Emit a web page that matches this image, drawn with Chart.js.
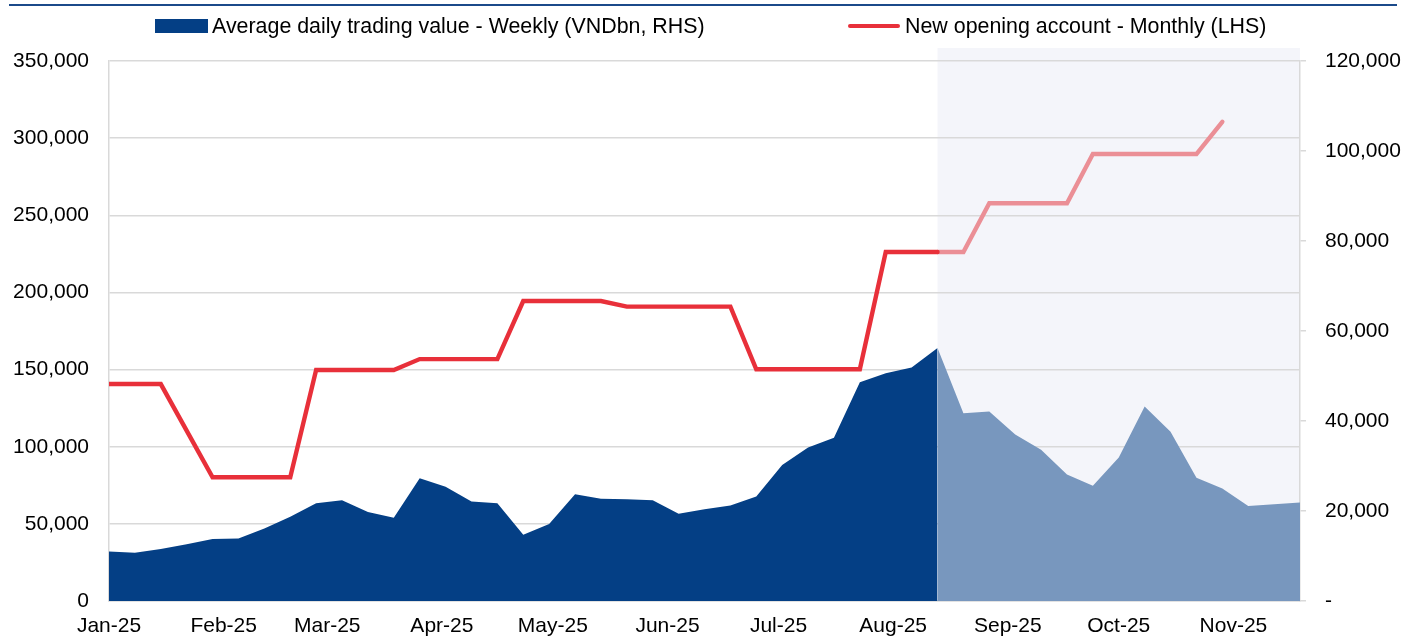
<!DOCTYPE html>
<html><head><meta charset="utf-8">
<script src="https://cdn.jsdelivr.net/npm/chart.js@4"></script>
<style>
html,body{margin:0;padding:0;background:#fff;}
#wrap{position:relative;width:1405px;height:637px;overflow:hidden;font-family:"Liberation Sans",Arial,sans-serif;}
#topline{position:absolute;left:9px;top:4px;width:1388px;height:2px;background:#1B4A8A;}
.lgt{position:absolute;top:15px;font-size:21.4px;line-height:22px;color:#000;white-space:nowrap;}
.lgm{position:absolute;}
canvas{position:absolute;left:0;top:0;}
</style></head>
<body><div id="wrap"><canvas id="c" width="1405" height="637"></canvas><div id="topline"></div><div id="legend"></div></div>
<script>
// ---- data ----
const weeks = ['2025-01-01','2025-01-08','2025-01-15','2025-01-22','2025-01-29',
  '2025-02-05','2025-02-12','2025-02-19','2025-02-26',
  '2025-03-05','2025-03-12','2025-03-19','2025-03-26',
  '2025-04-02','2025-04-09','2025-04-16','2025-04-23','2025-04-30',
  '2025-05-07','2025-05-14','2025-05-21','2025-05-28',
  '2025-06-04','2025-06-11','2025-06-18','2025-06-25',
  '2025-07-02','2025-07-09','2025-07-16','2025-07-23','2025-07-30',
  '2025-08-06','2025-08-13','2025-08-20','2025-08-27',
  '2025-09-03','2025-09-10','2025-09-17','2025-09-24',
  '2025-10-01','2025-10-08','2025-10-15','2025-10-22','2025-10-29',
  '2025-11-05','2025-11-12','2025-11-19'];
// Average daily trading value - weekly (VNDbn, right axis)
const tradingValue = [11000,10700,11550,12600,13800,13900,16100,18700,21700,22400,19800,18500,
  27300,25400,22100,21700,14700,17100,23700,22700,22600,22400,19400,20400,21200,23200,
  30200,34100,36300,48600,50600,51900,56200,41700,42100,37000,33600,28100,25600,31900,
  43200,37600,27400,25000,21100,21500,21900];
// New opening accounts - monthly value shown at each week (left axis)
const newAccounts = [140600,140600,140600,null,80200,80200,80200,80200,
  149700,149700,149700,149700,156800,156800,156800,156800,
  194400,194400,194400,194400,190800,190800,190800,190800,190800,
  150200,150200,150200,150200,150200,226200,226200,226200,226200,
  257800,257800,257800,257800,289700,289700,289700,289700,289700,310600,null,null,null];
const seriesNames = ['Average daily trading value - Weekly (VNDbn, RHS)','New opening account - Monthly (LHS)'];
const shadeStart = '2025-08-13';
const monthTicks = ['2025-01-01','2025-02-01','2025-03-01','2025-04-01','2025-05-01','2025-06-01',
  '2025-07-01','2025-08-01','2025-09-01','2025-10-01','2025-11-01'];
const monthLabels = ['Jan-25','Feb-25','Mar-25','Apr-25','May-25','Jun-25','Jul-25','Aug-25','Sep-25','Oct-25','Nov-25'];
const leftTicks = [0,50000,100000,150000,200000,250000,300000,350000];
const rightTicks = [0,20000,40000,60000,80000,100000,120000];

// ---- styles ----
const NAVY = '#043F85', NAVY_L = '#7897BE', RED = '#E8303A', RED_L = '#EB8F96', SHADE = '#F4F5FA', GRID = '#D9D9D9';

const day = s => (Date.UTC(+s.slice(0,4), +s.slice(5,7)-1, +s.slice(8,10)) - Date.UTC(2025,0,1)) / 86400000;
const splitIdx = weeks.indexOf(shadeStart);
const pts = (arr, keep) => weeks.map((w,i) => ({x: day(w), y: keep(i) ? arr[i] : null}));
const fmt = v => v.toLocaleString('en-US');

// legend (HTML)
const lg = document.getElementById('legend');
lg.innerHTML =
  `<div class="lgm" style="left:155px;top:19px;width:53px;height:14px;background:${NAVY}"></div>
   <div class="lgt" style="left:212px">${seriesNames[0]}</div>
   <div class="lgm" style="left:848px;top:24px;width:52px;height:4px;border-radius:2px;background:${RED}"></div>
   <div class="lgt" style="left:905px">${seriesNames[1]}</div>`;

const shadePlugin = {
  id: 'shade',
  beforeDraw(chart) {
    const {ctx, chartArea, scales} = chart;
    const x0 = scales.x.getPixelForValue(day(shadeStart));
    ctx.save();
    ctx.fillStyle = SHADE;
    ctx.fillRect(x0, chartArea.top - 13, chartArea.right - x0, chartArea.bottom - chartArea.top + 13);
    ctx.restore();
  }
};

Chart.defaults.font.family = '"Liberation Sans", Arial, sans-serif';
Chart.defaults.font.size = 21;
Chart.defaults.color = '#000';

new Chart(document.getElementById('c'), {
  type: 'line',
  data: {
    datasets: [
      {label: seriesNames[1], data: pts(newAccounts, i => i <= splitIdx), yAxisID: 'y',
       borderColor: RED, borderWidth: 4.4, pointRadius: 0, tension: 0, spanGaps: true, fill: false,
       borderCapStyle: 'round', borderJoinStyle: 'miter'},
      {label: seriesNames[1] + ' (later)', data: pts(newAccounts, i => i >= splitIdx), yAxisID: 'y',
       borderColor: RED_L, borderWidth: 4.4, pointRadius: 0, tension: 0, spanGaps: true, fill: false,
       borderCapStyle: 'round', borderJoinStyle: 'miter'},
      {label: seriesNames[0], data: pts(tradingValue, i => i <= splitIdx), yAxisID: 'y1',
       borderWidth: 0, borderColor: NAVY, backgroundColor: NAVY, pointRadius: 0, tension: 0, fill: 'origin'},
      {label: seriesNames[0] + ' (later)', data: pts(tradingValue, i => i >= splitIdx), yAxisID: 'y1',
       borderWidth: 0, borderColor: NAVY_L, backgroundColor: NAVY_L, pointRadius: 0, tension: 0, fill: 'origin'}
    ]
  },
  options: {
    responsive: false,
    animation: false,
    devicePixelRatio: 1,
    layout: {padding: {top: 61, left: 0, right: 0, bottom: 0}},
    plugins: {legend: {display: false}, tooltip: {enabled: false}},
    scales: {
      x: {
        type: 'linear',
        min: day(weeks[0]), max: day(weeks[weeks.length-1]),
        grid: {display: false, drawTicks: false},
        border: {display: true, color: GRID, width: 1.5},
        ticks: {autoSkip: false, maxRotation: 0, padding: 13,
          callback: v => { const k = monthTicks.findIndex(m => day(m) === v); return k >= 0 ? monthLabels[k] : ''; }},
        afterBuildTicks: s => { s.ticks = monthTicks.map(m => ({value: day(m)})); },
        afterFit: s => { s.height = 36; }
      },
      y: {
        position: 'left', min: 0, max: 350000,
        grid: {color: GRID, lineWidth: 1.5, drawTicks: false},
        border: {display: true, color: GRID, width: 1.5},
        ticks: {padding: 20, callback: v => fmt(v)},
        afterBuildTicks: s => { s.ticks = leftTicks.map(v => ({value: v})); },
        afterFit: s => { s.width = 109; }
      },
      y1: {
        position: 'right', min: 0, max: 120000,
        grid: {drawOnChartArea: false, drawTicks: true, tickLength: 6, color: GRID, lineWidth: 1.5},
        border: {display: true, color: GRID, width: 1.5},
        ticks: {padding: 19, callback: v => v === 0 ? '-' : fmt(v)},
        afterBuildTicks: s => { s.ticks = rightTicks.map(v => ({value: v})); },
        afterFit: s => { s.width = 105; }
      }
    }
  },
  plugins: [shadePlugin]
});
</script>
</body></html>
